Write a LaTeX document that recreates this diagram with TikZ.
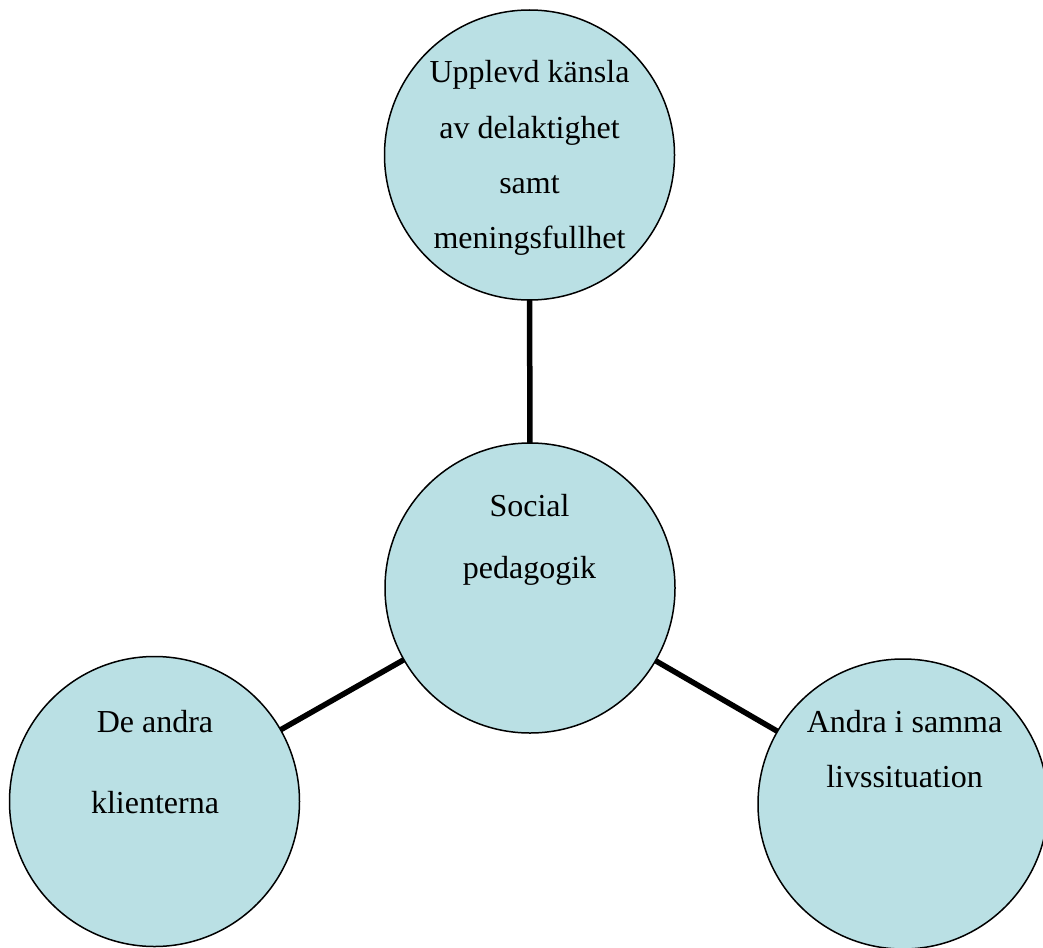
\documentclass[tikz,border=0pt]{standalone}
\usepackage{fontspec}
\setmainfont{Liberation Serif}
\definecolor{bubble}{RGB}{186,224,228}
\begin{document}
\begin{tikzpicture}[x=1pt,y=-1pt,
  bubble/.style={circle,draw=black,line width=1.5pt,fill=bubble,
    minimum size=290pt,inner sep=0pt,outer sep=0pt},
  link/.style={line width=5.5pt,black},
  txt/.style={anchor=base,inner sep=0pt,font=\fontsize{32}{55}\selectfont}]
\useasboundingbox (0,0) rectangle (1043,947);
% the four circles
\node[bubble] (top) at (529.5,155) {};
\node[bubble] (mid) at (530,588) {};
\node[bubble] (left) at (154.5,801.5) {};
\node[bubble] (right) at (903,804) {};
% connectors from the centre circle
\draw[link] (mid) -- (top);
\draw[link] (mid) -- (left);
\draw[link] (mid) -- (right);
% texts
\node[txt] (t1) at (529.5,83) {Upplevd känsla};
\node[txt] (t2) at (529.5,138) {av delaktighet};
\node[txt] (t3) at (529.5,193) {samt};
\node[txt] (t4) at (529.5,248) {meningsfullhet};
\node[txt] (m1) at (529.5,516) {Social};
\node[txt] (m2) at (529.5,578) {pedagogik};
\node[txt] (l1) at (155,732) {De andra};
\node[txt] (l2) at (155,813) {klienterna};
\node[txt] (r1) at (904.5,732) {Andra i samma};
\node[txt] (r2) at (904.5,787) {livssituation};
\end{tikzpicture}
\end{document}
